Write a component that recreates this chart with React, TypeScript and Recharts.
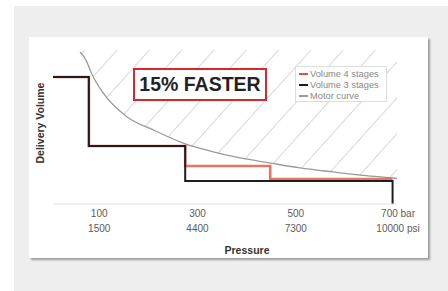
import React from 'react';
import { ComposedChart, Line, Area, XAxis, YAxis } from 'recharts';

// pressure ticks (bar) and their psi labels
const pressureTicks = [100, 300, 500, 700];
const barLabels = ['100', '300', '500', '700 bar'];
const psiLabels = ['1500', '4400', '7300', '10000 psi'];

// step lines: x = bar, y = delivery volume (relative 0..100)
const stages4X = [6, 79, 79, 275, 275, 448, 448, 697];
const stages4Y = [82.5, 82.5, 37.7, 37.7, 24.7, 24.7, 16.2, 16.2];
const stages3X = [6, 79, 79, 275, 275, 697, 697];
const stages3Y = [82.5, 82.5, 37.7, 37.7, 14.9, 14.9, 0];

// motor curve
const motorX = [61, 73, 85, 108, 157, 210, 271, 326, 387, 448, 509, 576, 631, 698, 706];
const motorY = [98.7, 93.5, 84.4, 72.1, 56.5, 48.1, 39.6, 34.4, 29.9, 26.6, 23.4, 20.8, 18.8, 16.9, 16.6];

const legendItems = [
  { name: 'Volume 4 stages', color: '#e0523e' },
  { name: 'Volume 3 stages', color: '#1e1e1e' },
  { name: 'Motor curve', color: '#9a9a9a' },
];

const zip = (xs: number[], ys: number[]) => xs.map((x, i) => ({ x, y: ys[i] }));
const stages4 = zip(stages4X, stages4Y);
const stages3 = zip(stages3X, stages3Y);
const motor = zip(motorX, motorY);

const font = '"Liberation Sans", Arial, sans-serif';

const PressureTick = (props: any) => {
  const { x, y, payload } = props;
  const i = pressureTicks.indexOf(payload.value);
  const shift = i === 3 ? 4 : 0;
  return (
    <g transform={`translate(${x + shift},${y})`}>
      <text textAnchor="middle" y={5} fontSize={10} fill="#5a5a5a" fontFamily={font}>{barLabels[i]}</text>
      <text textAnchor="middle" y={20} fontSize={10} fill="#5a5a5a" fontFamily={font}>{psiLabels[i]}</text>
    </g>
  );
};

export default function App() {
  return (
    <div style={{ position: 'fixed', left: 0, top: 0, width: 448, height: 291, background: '#fff', overflow: 'hidden' }}>
      <div style={{ position: 'absolute', left: 14, top: 6, width: 434, height: 285, background: '#eeeeee' }} />
      <div style={{ position: 'absolute', left: 29, top: 37, width: 399, height: 221, background: '#fff', boxShadow: '2px 2px 2px rgba(0,0,0,0.35)' }} />

      <div style={{ position: 'absolute', left: 0, top: 0 }}>
        <ComposedChart width={448} height={291} margin={{ top: 50, right: 51, bottom: 47, left: 53 }}>
          <defs>
            <pattern id="hatch" patternUnits="userSpaceOnUse" width={24} height={24} patternTransform="rotate(42)">
              <line x1={0} y1={0} x2={0} y2={24} stroke="#bdbdbd" strokeWidth={1.2} />
            </pattern>
          </defs>
          <XAxis
            type="number"
            dataKey="x"
            domain={[6, 706]}
            ticks={pressureTicks}
            allowDataOverflow
            tickLine={false}
            axisLine={{ stroke: '#e2e2e2' }}
            tick={<PressureTick />}
            height={40}
          />
          <YAxis type="number" domain={[0, 100]} width={0} tick={false} tickLine={false} axisLine={{ stroke: '#e2e2e2' }} />
          <Area
            data={motor}
            dataKey={(d: any) => [d.y, 100]}
            stroke="none"
            fill="url(#hatch)"
            fillOpacity={1}
            isAnimationActive={false}
            type="monotone"
          />
          <Line data={motor} dataKey="y" type="monotone" stroke="#9a9a9a" strokeWidth={1.3} dot={false} isAnimationActive={false} />
          <Line data={stages4} dataKey="y" type="linear" stroke="#e0523e" strokeWidth={2.6} strokeOpacity={0.8} dot={false} isAnimationActive={false} />
          <Line data={stages3} dataKey="y" type="linear" stroke="#1e1e1e" strokeWidth={2} dot={false} isAnimationActive={false} />
        </ComposedChart>
      </div>

      <div style={{ position: 'absolute', left: 133, top: 68, width: 130, height: 29, border: '2px solid #d8262c', background: '#fff', display: 'flex', alignItems: 'center', justifyContent: 'center', fontFamily: font, fontWeight: 700, fontSize: 19.5, color: '#222' }}>
        15% FASTER
      </div>

      <div style={{ position: 'absolute', left: 295, top: 66, width: 92, height: 36, border: '1px solid #ddd', background: '#fff', fontFamily: font, fontSize: 9.3, color: '#888', paddingTop: 1, boxSizing: 'border-box' }}>
        {legendItems.map((it) => (
          <div key={it.name} style={{ display: 'flex', alignItems: 'center', height: 11, whiteSpace: 'nowrap' }}>
            <span style={{ display: 'inline-block', width: 9, height: 2, background: it.color, marginLeft: 3, marginRight: 2 }} />
            {it.name}
          </div>
        ))}
      </div>

      <div style={{ position: 'absolute', left: 40, top: 123, transform: 'translate(-50%,-50%) rotate(-90deg)', fontFamily: font, fontWeight: 700, fontSize: 10.5, color: '#333', whiteSpace: 'nowrap' }}>
        Delivery Volume
      </div>
      <div style={{ position: 'absolute', left: 247, top: 244, transform: 'translateX(-50%)', fontFamily: font, fontWeight: 700, fontSize: 10.5, color: '#333', whiteSpace: 'nowrap' }}>
        Pressure
      </div>
    </div>
  );
}
